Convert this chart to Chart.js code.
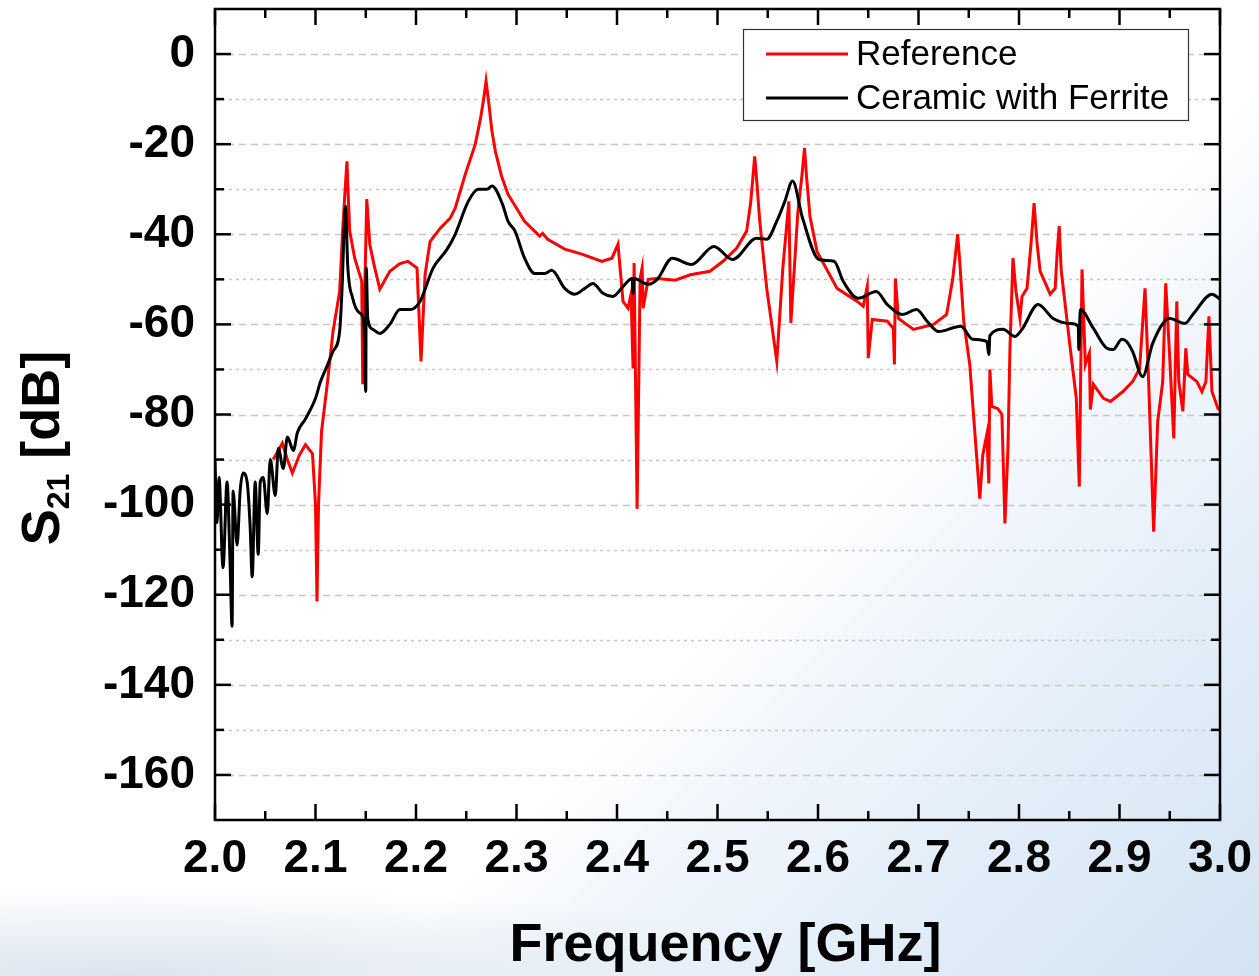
<!DOCTYPE html>
<html>
<head>
<meta charset="utf-8">
<script src="https://cdn.jsdelivr.net/npm/chart.js@4.4.1/dist/chart.umd.min.js"></script>
<style>
  html, body { margin: 0; padding: 0; }
  body {
    width: 1259px; height: 976px; overflow: hidden;
    background:
      radial-gradient(ellipse 700px 90px at 10% 100%, rgba(215,225,236,0.9) 0%, rgba(255,255,255,0) 100%),
      linear-gradient(135deg, #ffffff 0%, #ffffff 60%, #f1f6fc 68%, #e2edf8 82%, #d3e3f3 100%);
  }
  #wrap { position: relative; width: 1259px; height: 976px; }
</style>
</head>
<body>
<div id="wrap"><canvas id="s21Chart"></canvas></div>
<script>
// Reference (red)
const refFreq = [2.058, 2.067, 2.072, 2.077, 2.084, 2.090, 2.097, 2.100, 2.1015, 2.103, 2.106, 2.112, 2.1174, 2.124, 2.127, 2.1295, 2.1313, 2.1325, 2.134, 2.139, 2.146, 2.147, 2.151, 2.154, 2.158, 2.164, 2.174, 2.184, 2.192, 2.201, 2.205, 2.209, 2.214, 2.224, 2.234, 2.239, 2.249, 2.259, 2.264, 2.267, 2.2697, 2.2725, 2.2755, 2.279, 2.285, 2.2915, 2.308, 2.323, 2.326, 2.331, 2.348, 2.365, 2.385, 2.395, 2.401, 2.406, 2.411, 2.414, 2.416, 2.417, 2.420, 2.423, 2.425, 2.426, 2.431, 2.440, 2.458, 2.473, 2.4925, 2.5055, 2.519, 2.529, 2.533, 2.535, 2.537, 2.539, 2.542, 2.549, 2.559, 2.565, 2.571, 2.573, 2.580, 2.584, 2.5866, 2.5885, 2.592, 2.599, 2.619, 2.639, 2.645, 2.649, 2.650, 2.654, 2.669, 2.675, 2.676, 2.677, 2.680, 2.695, 2.715, 2.728, 2.734, 2.737, 2.739, 2.741, 2.745, 2.751, 2.761, 2.764, 2.768, 2.770, 2.771, 2.773, 2.779, 2.783, 2.786, 2.789, 2.791, 2.794, 2.797, 2.801, 2.803, 2.808, 2.812, 2.815, 2.818, 2.821, 2.831, 2.836, 2.838, 2.840, 2.842, 2.851, 2.857, 2.860, 2.8627, 2.866, 2.870, 2.871, 2.874, 2.884, 2.891, 2.9035, 2.913, 2.920, 2.9254, 2.929, 2.934, 2.938, 2.943, 2.946, 2.950, 2.954, 2.957, 2.959, 2.963, 2.966, 2.968, 2.977, 2.982, 2.986, 2.989, 2.992, 2.998, 3.0];
const refS21 = [-90, -86.4, -90, -93, -89, -86.7, -88.7, -100, -121.5, -100, -83.8, -72.7, -61.6, -52.7, -39.3, -30, -23.8, -31, -39.3, -45.3, -50.4, -73.3, -32.2, -42.2, -46.5, -52.2, -48.2, -46.5, -46, -47.5, -68.2, -49, -41.6, -38.7, -36.4, -34.2, -26.7, -20, -14.5, -10.5, -6, -11, -17, -21.6, -27, -31.1, -37.1, -40.4, -39.8, -41.1, -43.3, -44.4, -46, -45.3, -42.2, -54.9, -56.4, -53.3, -69.8, -46.4, -100.9, -49.8, -47.5, -56.4, -50, -49.8, -50.2, -49, -48.2, -46, -43.1, -39.3, -33, -28, -22.7, -28, -37, -52, -68.2, -47.5, -32.7, -59.7, -35, -27, -20.8, -27, -36, -43.8, -52, -54.9, -56, -51.6, -67.5, -58.9, -59.3, -60.9, -68.9, -49.8, -58.7, -61.1, -60, -57.8, -50, -44, -40, -46, -59.3, -68.9, -98.7, -88.9, -84.4, -95.3, -70, -78.2, -78.7, -80, -104.2, -87.6, -65.3, -45.3, -52.7, -58.7, -53.8, -52, -42, -33.1, -42, -48.2, -53.3, -52, -44, -38.2, -48, -65.3, -76.4, -96, -47.8, -68.9, -66.4, -78.9, -73.3, -76.4, -77.1, -74.9, -72.7, -69.8, -52, -72.7, -106, -81.6, -72.7, -50.9, -67.5, -85.3, -54.9, -72.7, -79.3, -65.3, -71.1, -72.7, -74.9, -72.7, -58.2, -74.9, -78.7, -79];

// Ceramic with Ferrite (black)
const ferFreq = [2.000, 2.002, 2.004, 2.008, 2.012, 2.015, 2.017, 2.018, 2.022, 2.025, 2.028, 2.032, 2.035, 2.037, 2.040, 2.043, 2.045, 2.048, 2.052, 2.055, 2.060, 2.063, 2.068, 2.072, 2.078, 2.082, 2.090, 2.100, 2.105, 2.112, 2.1174, 2.124, 2.126, 2.130, 2.132, 2.137, 2.144, 2.148, 2.150, 2.1505, 2.152, 2.157, 2.164, 2.174, 2.184, 2.194, 2.204, 2.217, 2.231, 2.239, 2.252, 2.262, 2.2706, 2.2756, 2.286, 2.2915, 2.2985, 2.308, 2.318, 2.328, 2.335, 2.348, 2.358, 2.368, 2.376, 2.386, 2.396, 2.406, 2.415, 2.416, 2.417, 2.431, 2.440, 2.455, 2.474, 2.4965, 2.515, 2.539, 2.549, 2.559, 2.567, 2.5747, 2.5846, 2.601, 2.616, 2.625, 2.640, 2.658, 2.669, 2.684, 2.698, 2.7085, 2.720, 2.742, 2.754, 2.768, 2.770, 2.771, 2.784, 2.796, 2.803, 2.819, 2.834, 2.851, 2.859, 2.8595, 2.861, 2.874, 2.8875, 2.8935, 2.9025, 2.907, 2.913, 2.923, 2.933, 2.950, 2.965, 2.973, 2.992, 3.0];
const ferS21 = [-90.4, -104, -94, -114, -95, -113, -127, -97, -109, -97, -93, -95, -105, -116, -95, -111, -95, -94, -102, -90, -98, -87.5, -92, -85, -88, -84, -81, -76.4, -72.7, -69, -66, -61.6, -54.2, -33.8, -46.7, -54.2, -57.5, -59.3, -74.9, -47.5, -58.7, -61.1, -62, -60, -56.7, -56.7, -54.9, -47.5, -43.3, -40, -32.7, -30, -30, -29.3, -33.3, -37.1, -39.3, -45.3, -48.7, -48.7, -48, -52, -53.3, -52, -50.9, -53.1, -53.8, -51.6, -49.8, -53.1, -49.8, -51.1, -50, -45.3, -46.7, -42.7, -45.6, -40.9, -41.1, -37.1, -32.7, -28.2, -36.4, -45.6, -46, -50.4, -54.2, -52.7, -55.6, -57.8, -56.7, -59.3, -61.6, -60.4, -63.3, -63.8, -66.7, -62.5, -61.1, -62.7, -61.1, -55.6, -58.7, -59.8, -60.4, -65.6, -56.7, -60.9, -65.3, -65.6, -63.3, -63.8, -66, -71.6, -64.2, -58.7, -59.8, -57.8, -53.3, -54.4];

const seriesNames = ['Reference', 'Ceramic with Ferrite'];
const seriesColors = ['#ff0000', '#000000'];

const xTickLabels = [2.0, 2.1, 2.2, 2.3, 2.4, 2.5, 2.6, 2.7, 2.8, 2.9, 3.0];
const xMinorTicks = [2.05, 2.15, 2.25, 2.35, 2.45, 2.55, 2.65, 2.75, 2.85, 2.95];
const yTickLabels = [0, -20, -40, -60, -80, -100, -120, -140, -160];
const yMinorTicks = [-10, -30, -50, -70, -90, -110, -130, -150];

const FONT = "'Liberation Sans', Arial, Helvetica, sans-serif";

function toPoints(xs, ys) {
  return xs.map((x, i) => ({ x: x, y: ys[i] }));
}

// gridlines, inward ticks, frame, legend and axis titles
const decorations = {
  id: 'decorations',
  beforeDatasetsDraw(chart) {
    const { ctx, chartArea: a, scales: { y } } = chart;
    ctx.save();
    ctx.strokeStyle = '#c6c6c6';
    ctx.lineWidth = 1.3;
    yTickLabels.concat(yMinorTicks).forEach(v => {
      const py = Math.round(y.getPixelForValue(v)) + 0.5;
      ctx.setLineDash(yTickLabels.includes(v) ? [7, 5] : [3, 4]);
      ctx.beginPath();
      ctx.moveTo(a.left, py);
      ctx.lineTo(a.right, py);
      ctx.stroke();
    });
    ctx.restore();
  },
  afterDatasetsDraw(chart) {
    const { ctx, chartArea: a, scales: { x, y } } = chart;
    ctx.save();
    ctx.strokeStyle = '#000';
    ctx.lineWidth = 2.5;

    const tick = (x1, y1, x2, y2) => {
      ctx.beginPath(); ctx.moveTo(x1, y1); ctx.lineTo(x2, y2); ctx.stroke();
    };
    yTickLabels.forEach(v => {
      const py = y.getPixelForValue(v);
      tick(a.left, py, a.left + 16, py);
      tick(a.right, py, a.right - 16, py);
    });
    yMinorTicks.forEach(v => {
      const py = y.getPixelForValue(v);
      tick(a.left, py, a.left + 9, py);
      tick(a.right, py, a.right - 9, py);
    });
    xTickLabels.forEach(v => {
      const px = x.getPixelForValue(v);
      tick(px, a.bottom, px, a.bottom - 16);
      tick(px, a.top, px, a.top + 16);
    });
    xMinorTicks.forEach(v => {
      const px = x.getPixelForValue(v);
      tick(px, a.bottom, px, a.bottom - 9);
      tick(px, a.top, px, a.top + 9);
    });

    // frame
    ctx.lineWidth = 2.5;
    ctx.strokeRect(a.left, a.top, a.right - a.left, a.bottom - a.top);

    // legend
    const lx = 743, ly = 29, lw = 445, lh = 91;
    ctx.fillStyle = '#fff';
    ctx.fillRect(lx, ly, lw, lh);
    ctx.lineWidth = 1.2;
    ctx.strokeStyle = '#333';
    ctx.strokeRect(lx + 0.5, ly + 0.5, lw, lh);
    ctx.font = '35px ' + FONT;
    ctx.textBaseline = 'middle';
    ctx.textAlign = 'left';
    seriesNames.forEach((name, i) => {
      const cy = 54 + i * 44;
      ctx.strokeStyle = seriesColors[i];
      ctx.lineWidth = 3;
      tick(766, cy, 848, cy);
      ctx.fillStyle = '#000';
      ctx.fillText(name, 856, cy + 1);
    });

    // x title
    ctx.fillStyle = '#000';
    ctx.font = 'bold 54px ' + FONT;
    ctx.textAlign = 'center';
    ctx.textBaseline = 'middle';
    ctx.fillText('Frequency [GHz]', (a.left + a.right) / 2 + 8, 946);

    // y title with subscript
    ctx.translate(44, 448);
    ctx.rotate(-Math.PI / 2);
    ctx.textBaseline = 'middle';
    ctx.textAlign = 'left';
    const big = 'bold 54px ' + FONT, small = 'bold 32px ' + FONT;
    ctx.font = big; const wS = ctx.measureText('S').width;
    ctx.font = small; const w21 = ctx.measureText('21').width;
    ctx.font = big; const wRest = ctx.measureText(' [dB]').width;
    let sx = -(wS + w21 + wRest) / 2;
    ctx.font = big; ctx.fillText('S', sx, 0); sx += wS;
    ctx.font = small; ctx.fillText('21', sx, 16); sx += w21;
    ctx.font = big; ctx.fillText(' [dB]', sx, 0);
    ctx.restore();
  }
};

new Chart(document.getElementById('s21Chart'), {
  type: 'line',
  data: {
    datasets: [
      {
        label: seriesNames[0],
        data: toPoints(refFreq, refS21),
        borderColor: seriesColors[0],
        borderWidth: 3,
        pointRadius: 0,
        tension: 0,
        order: 1
      },
      {
        label: seriesNames[1],
        data: toPoints(ferFreq, ferS21),
        borderColor: seriesColors[1],
        borderWidth: 3,
        pointRadius: 0,
        cubicInterpolationMode: 'monotone',
        order: 0
      }
    ]
  },
  options: {
    responsive: true,
    maintainAspectRatio: false,
    animation: false,
    layout: { padding: { left: 0, top: 9, right: 39, bottom: 0 } },
    scales: {
      x: {
        type: 'linear',
        min: 2.0,
        max: 3.0,
        afterBuildTicks: s => { s.ticks = xTickLabels.map(v => ({ value: v })); },
        afterFit: s => { s.height = 156; s.paddingLeft = 0; s.paddingRight = 0; },
        grid: { display: false, drawTicks: false },
        border: { display: false },
        ticks: {
          padding: 12,
          color: '#000',
          maxRotation: 0,
          autoSkip: false,
          font: { family: FONT, size: 46, weight: 'bold' },
          callback: v => Number(v).toFixed(1)
        }
      },
      y: {
        min: -170,
        max: 10,
        afterBuildTicks: s => { s.ticks = yTickLabels.map(v => ({ value: v })); },
        afterFit: s => { s.width = 215; s.paddingTop = 0; s.paddingBottom = 0; },
        grid: { display: false, drawTicks: false },
        border: { display: false },
        ticks: {
          padding: 20,
          color: '#000',
          autoSkip: false,
          font: { family: FONT, size: 46, weight: 'bold' }
        }
      }
    },
    plugins: {
      legend: { display: false },
      tooltip: { enabled: false }
    }
  },
  plugins: [decorations]
});
</script>
</body>
</html>
